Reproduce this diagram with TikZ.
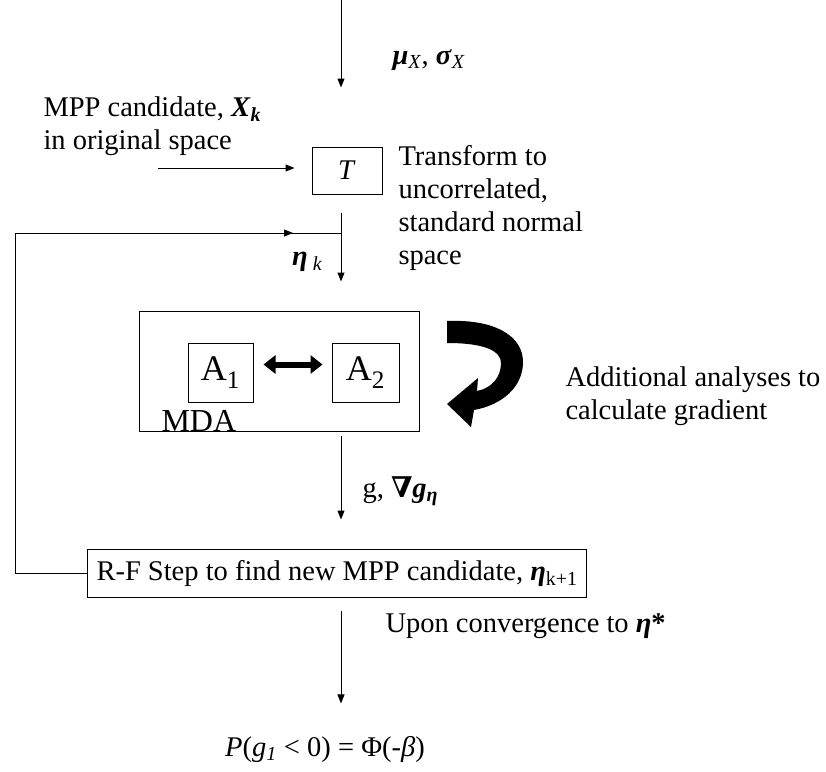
\documentclass[tikz,border=0pt]{standalone}
\usepackage{fontspec}
\usepackage{amsmath}
\setmainfont{Liberation Serif}
\newfontfamily\nablafont{DejaVu Serif}
\usetikzlibrary{arrows.meta}
\newcommand{\bi}[1]{\textbf{\textit{#1}}}
\newcommand{\lo}[1]{$_{\text{#1}}$}

\begin{document}
\begin{tikzpicture}[x=1pt, y=-1pt, line width=1pt, >={Triangle[length=9pt,width=7pt]},
  font=\fontsize{28.5}{33}\selectfont,
  box/.style={draw, inner sep=0pt},
  txt/.style={inner sep=0pt, align=left, anchor=north west}]
\useasboundingbox (0,0) rectangle (826,771);
% axis and free ends
\coordinate (axis) at (341,0);
\coordinate (xin) at (158,168);
\coordinate (tout) at (341,213);
\coordinate (join) at (341,233);
\coordinate (fbcorner) at (15,233);
% blocks
\node[box, minimum width=70pt, minimum height=47pt] (T) at (347,170.5) {\textit{T}};
\node[box, minimum width=280pt, minimum height=120pt] (MDA) at (279,371) {};
\node[box, minimum width=65pt, minimum height=59pt, font=\fontsize{36}{36}\selectfont] (A1) at (220.5,372.5) {A\lo{1}};
\node[box, minimum width=67pt, minimum height=59pt, font=\fontsize{36}{36}\selectfont] (A2) at (365.5,372.5) {A\lo{2}};
\node[anchor=base west, inner sep=0pt, font=\fontsize{32}{32}\selectfont] (mdalbl) at (161,431) {MDA};
\node[box, anchor=west, minimum height=48pt, inner xsep=9pt] (RF) at (87,573) {R-F Step to find new MPP candidate, \bi{η}\lo{k+1}};
\node[inner sep=0pt] (result) at (325,749) {\textit{P}(\textit{g}\lo{\textit{1}} < 0) = Φ(-\textit{β})};
% labels
\node[anchor=west, inner sep=0pt] (musig) at (392,60) {\bi{μ}\lo{\textit{X}}, \bi{σ}\lo{\textit{X}}};
\node[txt] (mpp) at (43,96) {MPP candidate, \bi{X}\lo{\bi{k}}\\in original space};
\node[txt] (trans) at (398,145) {Transform to\\uncorrelated,\\standard normal\\space};
\node[anchor=east, inner sep=0pt] (etak) at (323,262) {\bi{η}\lo{\ \textit{k}}};
\node[txt] (addl) at (565,366) {Additional analyses to\\calculate gradient};
\node[anchor=west, inner sep=0pt] (grad) at (362,491) {g, {\nablafont\bfseries ∇}\bi{g}\lo{\bi{η}}};
\node[anchor=west, inner sep=0pt] (conv) at (385,626) {Upon convergence to \bi{η}\textbf{*}};
% connectors
\draw[->, shorten >=59pt] (axis) -- (axis |- T.north);
\draw[->, shorten >=17pt] (xin) -- (xin -| T.west);
\draw (tout) -- (join);
\draw[->, shorten >=29pt] (join) -- (join |- MDA.north);
\draw (RF.west) -| (fbcorner) -- (join);
\draw[->, shorten >=48pt] (fbcorner) -- (join);
\draw[{Triangle[length=12pt,width=18pt]}-{Triangle[length=12pt,width=18pt]}, line width=6pt, shorten <=10pt, shorten >=9pt]
  ([yshift=8pt]A1.east) -- ([yshift=8pt]A2.west);
\draw[->, shorten <=4pt, shorten >=29pt] (axis |- MDA.south) -- (axis |- RF.north);
\draw[->, shorten <=13pt, shorten >=32pt] (axis |- RF.south) -- (axis |- result.north);
% curved arrow
\fill (447,321) .. controls (495,319) and (523,336) .. (523,362)
  .. controls (523,387) and (502,405) .. (474,410) -- (471,427) -- (447,404) -- (478,378) -- (477,391)
  .. controls (492,388) and (501,377) .. (501,363) .. controls (501,351) and (485,343) .. (447,343) -- cycle;
\end{tikzpicture}
\end{document}
